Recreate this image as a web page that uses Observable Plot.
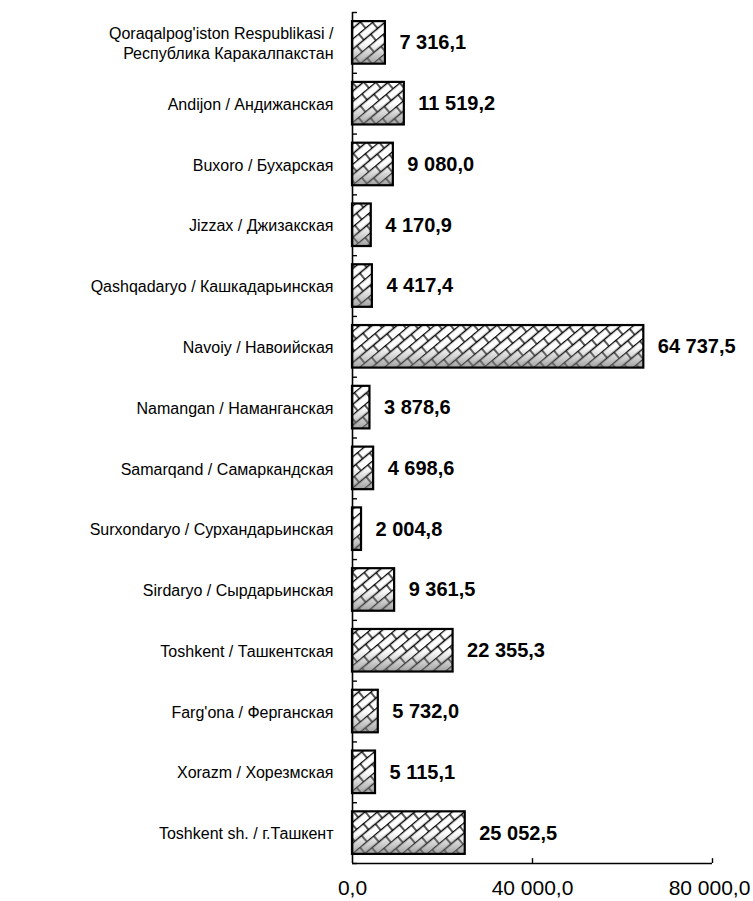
<!DOCTYPE html>
<html><head><meta charset="utf-8">
<script src="https://cdn.jsdelivr.net/npm/d3@7"></script>
<script src="https://cdn.jsdelivr.net/npm/@observablehq/plot@0.6"></script>
<style>body{margin:0;background:#fff}svg{font-family:"Liberation Sans",Arial,sans-serif}</style>
</head><body><div id="chart"></div>
<script>
const regions = [
  "Qoraqalpog'iston Respublikasi /\nРеспублика Каракалпакстан",
  "Andijon / Андижанская",
  "Buxoro / Бухарская",
  "Jizzax / Джизакская",
  "Qashqadaryo / Кашкадарьинская",
  "Navoiy / Навоийская",
  "Namangan / Наманганская",
  "Samarqand / Самаркандская",
  "Surxondaryo / Сурхандарьинская",
  "Sirdaryo / Сырдарьинская",
  "Toshkent / Ташкентская",
  "Farg'ona / Ферганская",
  "Xorazm / Хорезмская",
  "Toshkent sh. / г.Ташкент"
];
const values = [7316.1, 11519.2, 9080.0, 4170.9, 4417.4, 64737.5, 3878.6, 4698.6, 2004.8, 9361.5, 22355.3, 5732.0, 5115.1, 25052.5];
const xTicks = [0, 40000, 80000];

const fmt = v => d3.format(",.1f")(v).replace(/,/g, " ").replace(".", ",");
const data = regions.map((r, i) => ({region: r, value: values[i], i}));
const bounds = d3.range(regions.length + 1).map(k => k - 0.5);
const last = regions.length - 0.5;
const half = 0.35;

const chart = Plot.plot({
  width: 753, height: 901,
  marginLeft: 352, marginRight: 41, marginTop: 12, marginBottom: 38,
  style: {fontFamily: '"Liberation Sans", Arial, sans-serif', color: "black", background: "white"},
  x: {domain: [0, 80000], axis: null},
  y: {domain: [-0.5, last], reverse: true, axis: null},
  marks: [
    Plot.rect(data, {x1: 0, x2: "value", y1: d => d.i - half, y2: d => d.i + half, fill: "url(#brick)"}),
    Plot.rect(data, {x1: 0, x2: "value", y1: d => d.i - half, y2: d => d.i + half, fill: "url(#shade)"}),
    Plot.rect(data, {x1: 0, x2: "value", y1: d => d.i - half, y2: d => d.i + half, fill: "none", stroke: "black", strokeWidth: 2.2}),
    Plot.text(data, {x: "value", y: "i", text: d => fmt(d.value), dx: 14, textAnchor: "start", fontWeight: "bold", fontSize: 20}),
    Plot.text(data, {x: 0, y: "i", text: "region", dx: -19, textAnchor: "end", fontSize: 16, lineHeight: 1.2}),
    Plot.ruleX([0], {y1: -0.5, y2: last, strokeWidth: 1.6}),
    Plot.ruleY([last], {x1: 0, x2: 80000, strokeWidth: 1.6}),
    Plot.ruleY(bounds, {x1: 0, x2: 1100, strokeWidth: 1.4}),
    Plot.ruleX(xTicks.slice(1), {y1: last, y2: last - 0.08, strokeWidth: 1.4}),
    Plot.text(xTicks.slice(0, 2), {x: d => d, y: () => last, dy: 25, text: d => fmt(d), fontSize: 21}),
    Plot.text(xTicks.slice(2), {x: d => d, y: () => last, dy: 25, dx: -3, text: d => fmt(d), fontSize: 21})
  ]
});

const svg = d3.select(chart);
const defs = svg.insert("defs", ":first-child");
const p = defs.append("pattern").attr("id", "brick").attr("patternUnits", "userSpaceOnUse")
  .attr("width", 18).attr("height", 16).attr("patternTransform", "rotate(-40)");
p.append("rect").attr("width", 18).attr("height", 16).attr("fill", "white");
p.append("path").attr("d", "M0,0.5H18M0,8.5H18M1,0.5V8.5M10,8.5V16.5")
  .attr("stroke", "black").attr("stroke-width", 1.3).attr("fill", "none");
const g = defs.append("linearGradient").attr("id", "shade").attr("x1", 0).attr("y1", 0).attr("x2", 0).attr("y2", 1);
g.append("stop").attr("offset", "0.5").attr("stop-color", "#888").attr("stop-opacity", 0);
g.append("stop").attr("offset", "1").attr("stop-color", "#777").attr("stop-opacity", 0.7);

document.getElementById("chart").append(chart);
</script>
</body></html>
